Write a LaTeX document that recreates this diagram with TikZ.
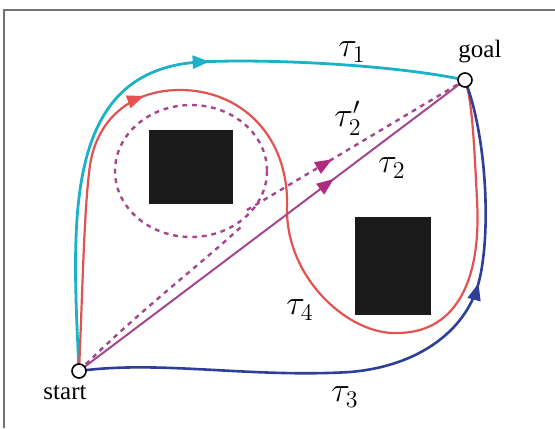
\documentclass[tikz,border=0pt]{standalone}
\usepackage{fontspec}
\setmainfont{Liberation Serif}
\usetikzlibrary{arrows.meta,decorations.markings,backgrounds}

\definecolor{tauone}{HTML}{1DB1C8}
\definecolor{taufour}{HTML}{E2524F}
\definecolor{tauthree}{HTML}{2D3F97}
\definecolor{tautwo}{HTML}{A4478F}
\definecolor{tiptwo}{HTML}{B02A80}
\definecolor{obst}{HTML}{1B1B1B}

\begin{document}
\begin{tikzpicture}[x=0.5pt,y=-0.5pt,>={Triangle[length=8.5pt,width=6.5pt]},
    endpt/.style={circle,draw,fill=white,line width=0.8pt,inner sep=0pt,minimum size=7pt},
    plabel/.style={font=\fontsize{12.5}{15}\selectfont},
    tlabel/.style={font=\fontsize{17}{20}\selectfont},
    route/.style={line width=1pt,tautwo},
    detour/.style={route,line width=1.2pt,dash pattern=on 2.4pt off 2.4pt},
    midarrow/.style={postaction={decorate},decoration={markings,
      mark=at position #1 with {\arrow{>}}}},
    midarrowtwo/.style={postaction={decorate},decoration={markings,
      mark=at position #1 with {\arrow[tiptwo]{>}}}}]
    \useasboundingbox (0,0) rectangle (555,428);

    % Frame
    \draw[black!55,line width=0.8pt] (4,428) -- (4,10) -- (555,10);

    % Obstacles
    \fill[obst] (149,130) rectangle (233,204);
    \fill[obst] (355,217) rectangle (431,315);

    % Start and goal
    \node[endpt] (start) at (79,371) {};
    \node[endpt] (goal) at (465,80) {};
    \node[plabel] (startlbl) at (65,393) {start};
    \node[plabel] (goallbl) at (480,52) {goal};

    \begin{scope}[on background layer]
      % tau_1
      \draw[tauone,line width=1.4pt,midarrow=0.6]
        (start.center) .. controls (72,220) and (62,70) .. (200,62)
        .. controls (260,58.6) and (390,64) .. (goal.center);
      % tau_4
      \draw[taufour,line width=1.1pt,midarrow=0.3]
        (start.center) .. controls (83,280) and (84,210) .. (90,165)
        .. controls (97,120) and (130,90) .. (180,90)
        .. controls (240,90) and (290,135) .. (287,210)
        .. controls (287,280) and (350,335) .. (397,333)
        .. controls (450,333) and (482,290) .. (477,200)
        .. controls (474,140) and (472,100) .. (goal.center);
      % tau_3
      \draw[tauthree,line width=1.3pt,midarrow=0.68]
        (start.center) .. controls (160,360) and (250,378) .. (350,372)
        .. controls (420,366) and (465,330) .. (478,285)
        .. controls (491,240) and (488,140) .. (goal.center);
      % tau_2
      \draw[route,midarrowtwo=0.66] (start.center) -- (goal.center);
      % tau_2' (detour round the obstacle)
      \draw[detour] (start.center) .. controls (140,310) and (200,265) .. (242,226);
      \draw[detour] (191,171) ellipse (76 and 66);
      \coordinate (loopout) at (247,210);
      \draw[detour,midarrowtwo=0.39] (loopout) -- (goal.center);
    \end{scope}

    % Labels
    \node[tlabel] (t1) at (352,52) {$\tau_1$};
    \node[tlabel] (t2p) at (348,118) {$\tau_2'$};
    \node[tlabel] (t2) at (392,168) {$\tau_2$};
    \node[tlabel] (t4) at (300,310) {$\tau_4$};
    \node[tlabel] (t3) at (345,397) {$\tau_3$};
\end{tikzpicture}
\end{document}
